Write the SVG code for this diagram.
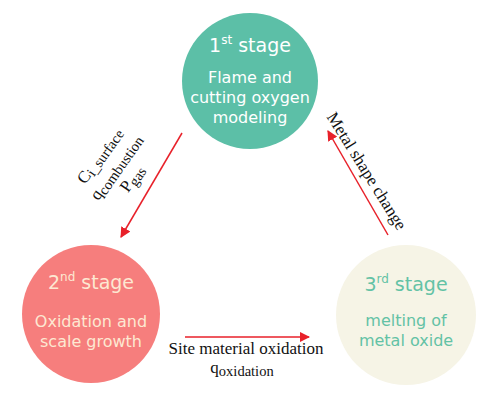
<svg xmlns="http://www.w3.org/2000/svg" width="497" height="402" viewBox="0 0 497 402">
<defs>
<marker id="ah" viewBox="0 0 10 10" refX="9" refY="5" markerWidth="7" markerHeight="7" markerUnits="strokeWidth" orient="auto">
<path d="M0,0 L10,5 L0,10 z" fill="#e8212a"/>
</marker>
<style>
.ttl{font-family:"DejaVu Sans",sans-serif;font-size:19px;text-anchor:middle}
.body{font-family:"DejaVu Sans",sans-serif;font-size:16px;text-anchor:middle}
.lbl{font-family:"Liberation Serif",serif;font-size:17px;fill:#111;text-anchor:middle}
.sub{font-size:14.5px}
.arr{stroke:#e8212a;stroke-width:1.5;fill:none;marker-end:url(#ah)}
</style>
</defs>
<rect width="497" height="402" fill="#fff"/>
<g id="stage1">
<circle cx="250" cy="81" r="68" fill="#5cbfa7"/>
<text class="ttl" x="250" y="52" fill="#fff">1<tspan font-size="12" dy="-8">st</tspan><tspan dy="8"> stage</tspan></text>
<text class="body" x="250" y="83" fill="#fff">Flame and</text>
<text class="body" x="250" y="103" fill="#fff">cutting oxygen</text>
<text class="body" x="250" y="123" fill="#fff">modeling</text>
</g>
<g id="stage2">
<circle cx="91" cy="314" r="69" fill="#f67e7d"/>
<text class="ttl" x="91" y="289" fill="#fde8d2">2<tspan font-size="12" dy="-8">nd</tspan><tspan dy="8"> stage</tspan></text>
<text class="body" x="91" y="327" fill="#fde8d2">Oxidation and</text>
<text class="body" x="91" y="347" fill="#fde8d2">scale growth</text>
</g>
<g id="stage3">
<circle cx="406" cy="315" r="70" fill="#f6f4e6"/>
<text class="ttl" x="406" y="291" fill="#63c2a5">3<tspan font-size="12" dy="-8">rd</tspan><tspan dy="8"> stage</tspan></text>
<text class="body" x="406" y="326" fill="#63c2a5">melting of</text>
<text class="body" x="406" y="346" fill="#63c2a5">metal oxide</text>
</g>
<g id="connectors">
<line class="arr" x1="182" y1="133" x2="121" y2="237"/>
<line class="arr" x1="185" y1="337" x2="309" y2="337"/>
<line class="arr" x1="388" y1="235" x2="328" y2="131"/>
</g>
<g id="labels">
<g transform="translate(120,170) rotate(-55)">
<text class="lbl" x="0" y="-20">C<tspan class="sub" dy="3">i_surface</tspan></text>
<text class="lbl" x="0" y="0">q<tspan class="sub" dy="3">combustion</tspan></text>
<text class="lbl" x="0" y="20">P<tspan class="sub" dy="3">gas</tspan></text>
</g>
<g transform="translate(362,174) rotate(58)">
<text class="lbl" x="0" y="0">Metal shape change</text>
</g>
<text class="lbl" x="246" y="354" font-size="17.5">Site material oxidation</text>
<text class="lbl" x="242" y="373">q<tspan class="sub" dy="3">oxidation</tspan></text>
</g>
</svg>
